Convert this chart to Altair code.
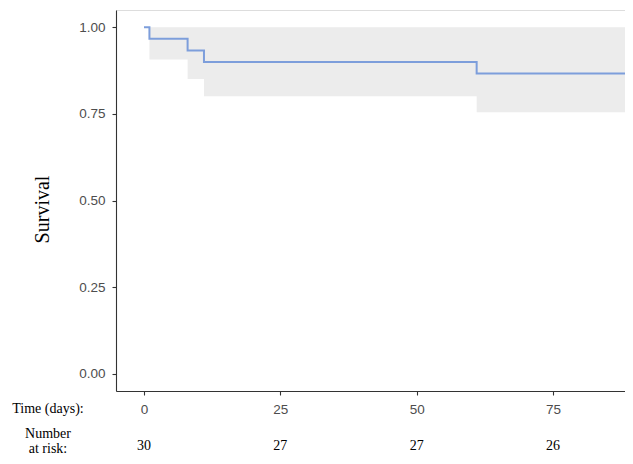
import altair as alt
import pandas as pd

# Kaplan-Meier step data
times = [0, 1, 8, 11, 61, 102]
surv = [1.0, 0.9667, 0.9333, 0.9, 0.8667, 0.8667]
lower = [1.0, 0.907, 0.851, 0.801, 0.755, 0.755]
upper = [1.0, 1.0, 1.0, 1.0, 1.0, 1.0]

# number-at-risk table
risk_times = [0, 25, 50, 75]
risk_counts = [30, 27, 27, 26]

x_ticks = [0, 25, 50, 75]
y_ticks = [0.0, 0.25, 0.5, 0.75, 1.0]

y_title = "Survival"
time_label = ["Time (days):"]
risk_label = ["Number", "at risk:"]

df = pd.DataFrame({"time": times, "surv": surv, "lower": lower, "upper": upper})
risk = pd.DataFrame({"time": risk_times, "n": risk_counts})
tl = pd.DataFrame({"t": time_label})
one = pd.DataFrame({"k": [0]})

W, H = 509, 381
xscale = alt.Scale(domain=[-5.13, 88.2], nice=False, zero=False)
yscale = alt.Scale(domain=[-0.05, 1.05], nice=False, zero=False)

axis_common = dict(
    domainColor="#333333", domainWidth=1.1, tickColor="#333333", tickWidth=1.1,
    tickSize=4, labelFont="Liberation Sans", labelFontSize=13.5, labelColor="#4d4d4d",
    grid=False, labelFlush=False, labelOverlap=False,
)

band = alt.Chart(df).mark_area(interpolate="step-after", color="#ececec", clip=True).encode(
    x=alt.X("time:Q", scale=xscale,
            axis=alt.Axis(values=x_ticks, title=None, labelPadding=7, **axis_common)),
    y=alt.Y("lower:Q", scale=yscale,
            axis=alt.Axis(values=y_ticks, format=".2f", title=y_title, labelPadding=7,
                          titleFont="Liberation Serif", titleFontSize=20, titleFontWeight="normal",
                          titleColor="#000000", titleX=-74, titleY=199, titleAngle=270,
                          titleAlign="center", titleBaseline="middle", **axis_common)),
    y2="upper:Q",
)

line = alt.Chart(df).mark_line(interpolate="step-after", color="#7d9edb", strokeWidth=2, clip=True).encode(
    x="time:Q", y="surv:Q"
)

risk_text = alt.Chart(risk).mark_text(font="Liberation Serif", fontSize=14, color="#000000",
                                      baseline="middle", align="center").encode(
    x="time:Q", y=alt.value(435.5), text="n:Q"
)

time_text = alt.Chart(tl).mark_text(font="Liberation Serif", fontSize=14, color="#000000",
                                    baseline="middle", align="center").encode(
    x=alt.value(-68), y=alt.value(399), text="t:N"
)

risk_lab = alt.Chart(one).mark_text(text=risk_label, font="Liberation Serif", fontSize=14,
                                    color="#000000", baseline="middle", align="center",
                                    lineHeight=15).encode(
    x=alt.value(-68), y=alt.value(424)
)

chart = alt.layer(band, line, risk_text, time_text, risk_lab).properties(
    width=W, height=H,
    autosize=alt.AutoSizeParams(type="none"),
    padding={"left": 108, "top": 2, "right": 0, "bottom": 65},
).configure_view(stroke=None).configure(background="white")

chart.save("out.html", embed_options={"renderer": "svg", "actions": False})
